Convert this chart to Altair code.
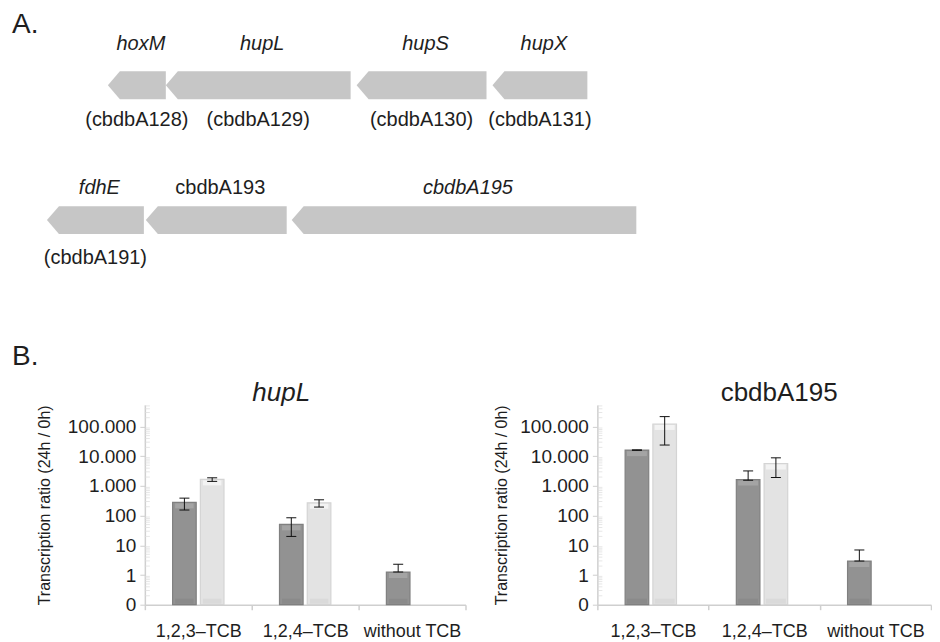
import altair as alt
import pandas as pd

FONT = "Liberation Sans"
TXT = "#1e1e1e"

# ---------------- Part A: gene map (positions in map units) ----------------
gene_names = ["hoxM", "hupL", "hupS", "hupX", "fdhE", "cbdbA193", "cbdbA195"]
gene_tags = ["(cbdbA128)", "(cbdbA129)", "(cbdbA130)", "(cbdbA131)", "(cbdbA191)", "", ""]
gene_row = [0, 0, 0, 0, 1, 1, 1]
gene_start = [100, 158, 349, 485, 39, 138, 284]
gene_end = [158, 343, 479, 580, 136, 279, 629]
gene_italic = [True, True, True, True, True, False, True]

# ---------------- Part B: transcription ratios (24h / 0h) ----------------
categories = ["1,2,3\u2013TCB", "1,2,4\u2013TCB", "without TCB"]
series_names = ["dark", "light"]

hupL_dark = [280, 51, 1.26]
hupL_dark_lo = [155, 20, 1.26]
hupL_dark_hi = [390, 85, 2.3]
hupL_light = [1670, 272, None]
hupL_light_lo = [1430, 195, None]
hupL_light_hi = [1890, 343, None]

a195_dark = [16200, 1650, 2.96]
a195_dark_lo = [15900, 1560, 2.96]
a195_dark_hi = [16500, 3220, 6.98]
a195_light = [123000, 5730, None]
a195_light_lo = [24000, 1930, None]
a195_light_hi = [218000, 8900, None]

y_ticks = [0.1, 1, 10, 100, 1000, 10000, 100000]
y_max = 540000

# ---------------- gene chart ----------------
HEAD = 12          # arrow head length in map units
HALF = 0.1037      # half arrow height in row units
poly = []
for n, r, s, e in zip(gene_names, gene_row, gene_start, gene_end):
    poly.append(dict(gene=n, x=s, y=r, y2=r))
    poly.append(dict(gene=n, x=s + HEAD, y=r - HALF, y2=r + HALF))
    poly.append(dict(gene=n, x=e, y=r - HALF, y2=r + HALF))
poly_df = pd.DataFrame(poly)

top_gap = {0: 0.304, 1: 0.237}
bot_gap = {0: 0.259, 1: 0.281}
lab = []
for n, t, r, s, e, it in zip(gene_names, gene_tags, gene_row, gene_start, gene_end, gene_italic):
    lab.append(dict(name=n, tag=t, mid=(s + e) / 2, ytop=r - top_gap[r], ybot=r + bot_gap[r], italic=it))
lab_df = pd.DataFrame(lab)

xg = alt.Scale(domain=[0, 924], nice=False, zero=False)
yg = alt.Scale(domain=[-0.5704, 2.2444], reverse=True, nice=False, zero=False)

arrows = alt.Chart(poly_df).mark_area(color="#c6c6c6", interpolate="linear").encode(
    x=alt.X("x:Q", scale=xg, axis=None),
    y=alt.Y("y:Q", scale=yg, axis=None, stack=None),
    y2="y2:Q",
    detail="gene:N",
)

top_it = alt.Chart(lab_df).transform_filter("datum.italic").mark_text(
    font=FONT, fontSize=20, fontStyle="italic", color=TXT, baseline="middle", dx=4
).encode(x=alt.X("mid:Q", scale=xg, axis=None), y=alt.Y("ytop:Q", scale=yg, axis=None), text="name:N")

top_up = alt.Chart(lab_df).transform_filter("!datum.italic").mark_text(
    font=FONT, fontSize=20, color=TXT, baseline="middle", dx=4
).encode(x=alt.X("mid:Q", scale=xg, axis=None), y=alt.Y("ytop:Q", scale=yg, axis=None), text="name:N")

bottom = alt.Chart(lab_df).mark_text(
    font=FONT, fontSize=20, color=TXT, baseline="middle"
).encode(x=alt.X("mid:Q", scale=xg, axis=None), y=alt.Y("ybot:Q", scale=yg, axis=None), text="tag:N")

panel_a = alt.Chart(pd.DataFrame({"t": ["A."]})).mark_text(
    font=FONT, fontSize=28, color=TXT, align="left", baseline="middle"
).encode(x=alt.value(4), y=alt.value(17), text="t:N")
panel_b = alt.Chart(pd.DataFrame({"t": ["B."]})).mark_text(
    font=FONT, fontSize=28, color=TXT, align="left", baseline="middle"
).encode(x=alt.value(4), y=alt.value(349), text="t:N")

gene_chart = alt.layer(arrows, top_it, top_up, bottom, panel_a, panel_b).properties(width=924, height=380)

# ---------------- bar panels ----------------
minor_vals = []
for k in range(-1, 6):
    for m in range(2, 10):
        v = m * 10 ** k
        if v <= y_max:
            minor_vals.append(v)
minor_df = pd.DataFrame({"m": minor_vals})


def panel(title, italic, dark, dlo, dhi, light, llo, lhi, width, pin, pout, title_dx, title_x, bar_w):
    rows = []
    for i, c in enumerate(categories):
        rows.append(dict(cat=c, s="dark", v=dark[i], lo=dlo[i], hi=dhi[i], base=0.1))
        if light[i] is not None:
            rows.append(dict(cat=c, s="light", v=light[i], lo=llo[i], hi=lhi[i], base=0.1))
    df = pd.DataFrame(rows)

    xs = alt.X("cat:N", sort=categories, scale=alt.Scale(paddingInner=0, paddingOuter=0),
               axis=alt.Axis(title=None, labelAngle=0, tickBand="extent", domainColor="#cfcfcf",
                             domainWidth=1.5, tickColor="#cfcfcf", tickWidth=1.5, tickSize=5,
                             labelPadding=13, labelFontSize=18, labelFont=FONT, labelColor=TXT))
    xo = alt.XOffset("s:N", sort=series_names,
                     scale=alt.Scale(domain=series_names, paddingInner=pin, paddingOuter=pout))
    xcat = alt.X("cat:N", sort=categories)
    xoff = alt.XOffset("s:N", sort=series_names)
    yscale = alt.Scale(type="log", domain=[0.1, y_max])
    ys = alt.Y("v:Q", scale=yscale,
               axis=alt.Axis(values=y_ticks, grid=False, domainColor="#cfcfcf", domainWidth=1.5,
                             tickColor="#cfcfcf", tickSize=5, labelPadding=4, labelFontSize=19,
                             labelFont=FONT, labelColor=TXT,
                             labelExpr="datum.value < 1 ? '0' : replace(format(datum.value, ','), ',', '.')",
                             title="Transcription ratio (24h / 0h)", titleFont=FONT, titleFontSize=16,
                             titleFontWeight="normal", titleColor=TXT, titleX=title_x, titleY=100,
                             titleAlign="center", titleBaseline="middle", titleAngle=-90))

    bars = alt.Chart(df).mark_bar(strokeWidth=1.2).encode(
        x=xs, xOffset=xo, y=ys, y2=alt.datum(0.1),
        color=alt.Color("s:N", scale=alt.Scale(domain=series_names, range=["#929292", "#e3e3e3"]), legend=None),
        stroke=alt.Stroke("s:N", scale=alt.Scale(domain=series_names, range=["#808080", "#d4d4d4"]), legend=None),
    )
    # bevel highlight at the top and shade at the bottom of each bar
    hi_band = alt.Chart(df).mark_tick(thickness=5, size=bar_w - 5, orient="horizontal", yOffset=3.5,
                                      opacity=1).encode(
        x=xcat, xOffset=xoff, y=alt.Y("v:Q", scale=yscale),
        fill=alt.Fill("s:N", scale=alt.Scale(domain=series_names, range=["#a4a4a4", "#f3f3f3"]), legend=None))
    lo_band = alt.Chart(df).mark_tick(thickness=5, size=bar_w - 5, orient="horizontal", yOffset=-3.5,
                                      opacity=1).encode(
        x=xcat, xOffset=xoff, y=alt.Y("base:Q", scale=yscale),
        fill=alt.Fill("s:N", scale=alt.Scale(domain=series_names, range=["#8a8a8a", "#dadada"]), legend=None))
    err = alt.Chart(df).mark_rule(color="#111111", strokeWidth=1).encode(
        x=xcat, xOffset=xoff, y=alt.Y("lo:Q", scale=yscale), y2="hi:Q")
    cap_lo = alt.Chart(df).mark_tick(color="#111111", thickness=1, size=10, orient="horizontal",
                                     opacity=1).encode(
        x=xcat, xOffset=xoff, y=alt.Y("lo:Q", scale=yscale))
    cap_hi = alt.Chart(df).mark_tick(color="#111111", thickness=1, size=10, orient="horizontal",
                                     opacity=1).encode(
        x=xcat, xOffset=xoff, y=alt.Y("hi:Q", scale=yscale))
    minor = alt.Chart(minor_df).mark_tick(color="#dcdcdc", thickness=1, size=5, orient="horizontal").encode(
        x=alt.value(2.5), y=alt.Y("m:Q", scale=yscale))

    return alt.layer(bars, hi_band, lo_band, minor, err, cap_lo, cap_hi).resolve_scale(
        color="independent", fill="independent", stroke="independent"
    ).properties(
        width=width, height=200,
        title=alt.TitleParams(text=title, font=FONT, fontSize=26, fontWeight="normal",
                              fontStyle="italic" if italic else "normal", color=TXT,
                              anchor="middle", dx=title_dx, offset=-1),
    )


left = panel("hupL", True, hupL_dark, hupL_dark_lo, hupL_dark_hi, hupL_light, hupL_light_lo, hupL_light_hi,
             321, 0.15, 1.0, -24, -100, 23.5)
right = panel("cbdbA195", False, a195_dark, a195_dark_lo, a195_dark_hi, a195_light, a195_light_lo, a195_light_hi,
              334, 0.17, 0.93, 15, -96, 25)

spacer = alt.Chart(pd.DataFrame({"t": [""]})).mark_text().encode(text="t:N").properties(width=5, height=200)

bottom_row = alt.hconcat(spacer, left, right, spacing=132, bounds="flush")

chart = alt.vconcat(gene_chart, bottom_row, spacing=17, bounds="flush").properties(
    padding=0
).configure(font=FONT).configure_view(strokeWidth=0, stroke="transparent")

chart.save("out.html", embed_options={"renderer": "svg", "actions": False})
